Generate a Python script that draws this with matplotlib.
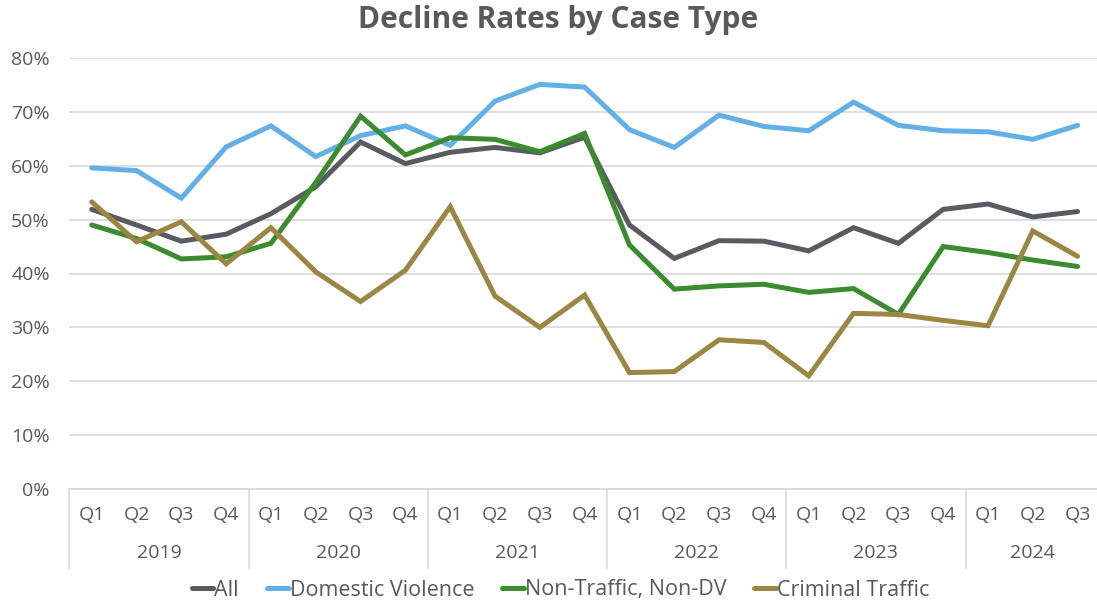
import numpy as np
import matplotlib.pyplot as plt
import matplotlib.transforms as mtransforms

quarters = ["Q1", "Q2", "Q3", "Q4"] * 5 + ["Q1", "Q2", "Q3"]
years = ["2019", "2020", "2021", "2022", "2023", "2024"]
year_counts = [4, 4, 4, 4, 4, 3]

all_cases = [51.9, 49.0, 46.0, 47.3, 51.1, 56.1, 64.4, 60.4, 62.5, 63.4, 62.4, 65.3,
             49.0, 42.8, 46.1, 46.0, 44.2, 48.5, 45.6, 51.9, 52.9, 50.5, 51.5]
domestic_violence = [59.6, 59.1, 54.0, 63.5, 67.4, 61.7, 65.6, 67.4, 63.8, 72.0, 75.1, 74.6,
                     66.7, 63.4, 69.4, 67.3, 66.5, 71.8, 67.5, 66.5, 66.3, 64.9, 67.5]
non_traffic = [49.0, 46.5, 42.7, 43.1, 45.6, 56.9, 69.2, 62.0, 65.2, 64.9, 62.6, 66.0,
               45.3, 37.1, 37.7, 38.0, 36.5, 37.2, 32.4, 45.0, 43.9, 42.5, 41.3]
criminal_traffic = [53.3, 45.9, 49.6, 41.8, 48.5, 40.3, 34.8, 40.6, 52.4, 35.8, 30.0, 36.0,
                    21.6, 21.8, 27.7, 27.2, 21.0, 32.6, 32.4, 31.3, 30.3, 47.9, 43.2]

series = [
    ("All", all_cases, "#585B60"),
    ("Domestic Violence", domestic_violence, "#63B0E6"),
    ("Non-Traffic, Non-DV", non_traffic, "#3B8B2F"),
    ("Criminal Traffic", criminal_traffic, "#9B8743"),
]

plt.rcParams["font.family"] = ["Open Sans", "DejaVu Sans"]
text_color = "#595959"
grid_color = "#D9D9D9"

fig = plt.figure(figsize=(10.97, 6.05), dpi=100)
ax = fig.add_axes([69.3 / 1097, 1 - 489 / 605, (1100 - 69.3) / 1097, (489 - 58) / 605])

x = np.arange(len(quarters))
for name, vals, col in series:
    ax.plot(x, vals, color=col, lw=3.6, label=name, solid_joinstyle="miter",
            solid_capstyle="round")

ax.set_xlim(-0.5, len(quarters) - 0.5)
ax.set_ylim(0, 80)
ax.set_yticks(range(0, 81, 10))
ax.set_yticklabels([f"{v}%" for v in range(0, 81, 10)])
ax.set_xticks(x)
ax.set_xticklabels(quarters)
ax.tick_params(axis="both", length=0, labelsize=14, labelcolor=text_color)
ax.tick_params(axis="y", pad=14)
ax.tick_params(axis="x", pad=12)
ax.grid(axis="y", color=grid_color, lw=1.2)
ax.set_axisbelow(True)
for s in ["top", "right", "left"]:
    ax.spines[s].set_visible(False)
ax.spines["bottom"].set_color(grid_color)
ax.spines["bottom"].set_linewidth(1.2)

# year groups and separators below the axis
trans = mtransforms.blended_transform_factory(ax.transData, ax.transAxes)
px = 1 / (489 - 58)
start = -0.5
for yr, n in zip(years, year_counts):
    ax.plot([start, start], [0, -79 * px], color=grid_color, lw=1.2,
            transform=trans, clip_on=False)
    ax.text(start + n / 2, -64 * px, yr, transform=trans, ha="center", va="center",
            fontsize=14, color=text_color)
    start += n

fig.text(558 / 1097, 1 - 20 / 605, "Decline Rates by Case Type", ha="center",
         va="center", fontsize=21.5, fontweight="bold", color=text_color)

fig.legend(loc="center", bbox_to_anchor=(0.511, 1 - 590 / 605), ncol=4, frameon=False,
           fontsize=15.5, labelcolor=text_color, handlelength=1.0, handletextpad=0.05,
           columnspacing=1.3)

fig.savefig("out.png", dpi=100)
